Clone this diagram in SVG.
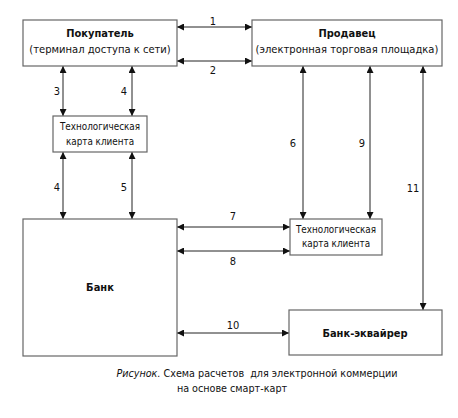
<svg xmlns="http://www.w3.org/2000/svg" width="458" height="418" viewBox="0 0 458 418">
<defs>
<marker id="ah" viewBox="0 0 10 10" refX="10" refY="5" markerWidth="7" markerHeight="7" markerUnits="userSpaceOnUse" orient="auto-start-reverse">
<path d="M0,0 L10,5 L0,10 z" fill="#111"/>
</marker>
<style>
.box{fill:#fff;stroke:#666;stroke-width:1.2}
.ln{stroke:#222;stroke-width:1;fill:none;marker-start:url(#ah);marker-end:url(#ah)}
text{font-family:"DejaVu Sans Condensed","DejaVu Sans",sans-serif;fill:#111}
.t{font-size:11px;font-weight:bold;text-anchor:middle}
.s{font-size:11.1px;text-anchor:middle}
.c{font-size:9.8px;text-anchor:middle}
.n{font-size:11px;text-anchor:middle}
.cap{font-size:10.7px}
</style>
</defs>
<rect width="458" height="418" fill="#fff"/>
<g id="connectors">
<line class="ln" x1="177" y1="27" x2="252" y2="27"/>
<line class="ln" x1="177" y1="61" x2="252" y2="61"/>
<line class="ln" x1="63" y1="66" x2="63" y2="116"/>
<line class="ln" x1="132" y1="66" x2="132" y2="116"/>
<line class="ln" x1="63" y1="152" x2="63" y2="219"/>
<line class="ln" x1="132" y1="152" x2="132" y2="219"/>
<line class="ln" x1="303" y1="66" x2="303" y2="219"/>
<line class="ln" x1="370" y1="66" x2="370" y2="219"/>
<line class="ln" x1="423" y1="66" x2="423" y2="310"/>
<line class="ln" x1="177" y1="227" x2="290" y2="227"/>
<line class="ln" x1="177" y1="251" x2="290" y2="251"/>
<line class="ln" x1="177" y1="333" x2="289" y2="333"/>
<text class="n" x="213" y="25">1</text>
<text class="n" x="213" y="74">2</text>
<text class="n" x="57" y="95">3</text>
<text class="n" x="124" y="95">4</text>
<text class="n" x="57" y="191">4</text>
<text class="n" x="124" y="191">5</text>
<text class="n" x="293" y="147">6</text>
<text class="n" x="362" y="147">9</text>
<text class="n" x="413" y="192">11</text>
<text class="n" x="233" y="220">7</text>
<text class="n" x="233" y="265">8</text>
<text class="n" x="233" y="329">10</text>
</g>
<g id="buyer">
<rect class="box" x="23" y="20" width="154" height="46"/>
<text class="t" x="100" y="37">Покупатель</text>
<text class="s" x="100" y="53">(терминал доступа к сети)</text>
</g>
<g id="seller">
<rect class="box" x="252" y="20" width="190" height="46"/>
<text class="t" x="347" y="37">Продавец</text>
<text class="s" x="347" y="53">(электронная торговая площадка)</text>
</g>
<g id="card1">
<rect class="box" x="53" y="116" width="94" height="36"/>
<text class="c" x="100" y="130">Технологическая</text>
<text class="c" x="100" y="145">карта клиента</text>
</g>
<g id="card2">
<rect class="box" x="290" y="219" width="92" height="36"/>
<text class="c" x="336" y="233">Технологическая</text>
<text class="c" x="336" y="247">карта клиента</text>
</g>
<g id="bank">
<rect class="box" x="23" y="219" width="154" height="137"/>
<text class="t" x="100" y="291">Банк</text>
</g>
<g id="acquirer">
<rect class="box" x="289" y="310" width="153" height="45"/>
<text class="t" x="365" y="337">Банк-эквайрер</text>
</g>
<g id="caption">
<text class="cap" x="257" y="377" text-anchor="middle" xml:space="preserve"><tspan font-style="italic">Рисунок.</tspan> Схема расчетов  для электронной коммерции</text>
<text class="cap" x="232" y="392" text-anchor="middle">на основе смарт-карт</text>
</g>
</svg>
